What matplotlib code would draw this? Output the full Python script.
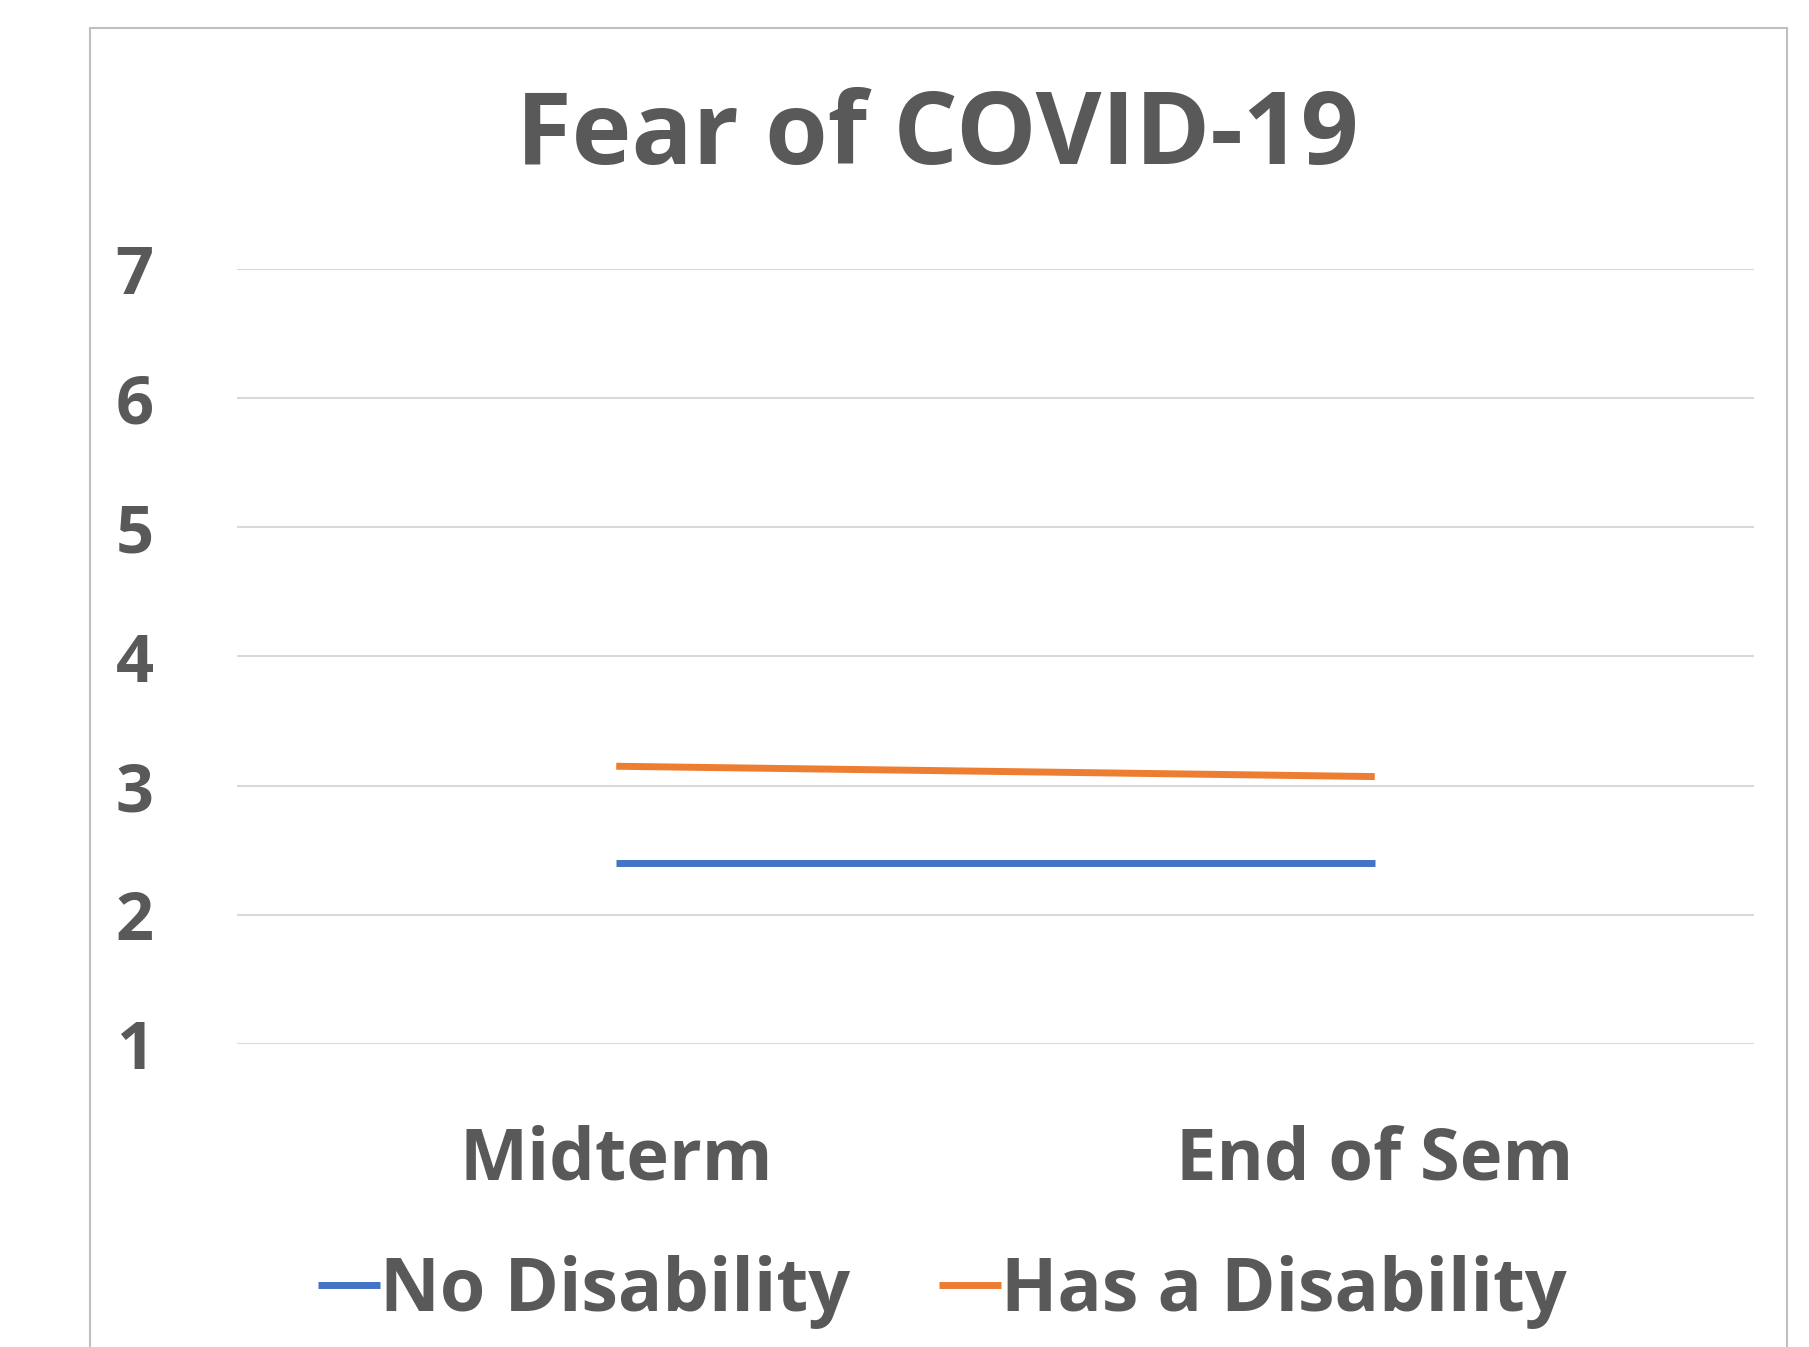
import matplotlib
matplotlib.use('Agg')
import matplotlib.pyplot as plt
from matplotlib.patches import Rectangle

# data
categories = ['Midterm', 'End of Sem']
no_disability = [2.40, 2.40]
has_disability = [3.15, 3.07]
series_names = ['No Disability', 'Has a Disability']
y_ticks = [1, 2, 3, 4, 5, 6, 7]

text_color = '#595959'
plt.rcParams['font.family'] = ['Open Sans', 'DejaVu Sans']

fig = plt.figure(figsize=(18.09, 13.47), dpi=100)
fig.patch.set_facecolor('white')
# chart-area frame (Excel style), bottom edge runs off the image
fig.patches.append(Rectangle((90 / 1809, -0.05), (1787 - 90) / 1809, 1.05 - 28 / 1347,
                             transform=fig.transFigure, fill=False,
                             edgecolor='#bfbfbf', linewidth=1.5))

ax = fig.add_axes([0.131, 0.225, 0.8386, 0.5753])
x = list(range(len(categories)))
ax.plot(x, no_disability, color='#4472c4', linewidth=5, solid_capstyle='butt',
        label=series_names[0])
ax.plot(x, has_disability, color='#ed7d31', linewidth=5, solid_capstyle='butt',
        label=series_names[1])

ax.set_xlim(-0.5, len(categories) - 0.5)
ax.set_ylim(1, 7)
ax.set_yticks(y_ticks)
ax.set_xticks(x)
ax.set_xticklabels(categories)
ax.grid(axis='y', color='#d9d9d9', linewidth=1.5)
ax.set_axisbelow(True)
for s in ax.spines.values():
    s.set_visible(False)
ax.tick_params(axis='y', length=0, pad=60, labelsize=48, labelcolor=text_color)
ax.tick_params(axis='x', length=0, pad=58, labelsize=52, labelcolor=text_color)
for lab in ax.get_xticklabels() + ax.get_yticklabels():
    lab.set_fontweight('bold')

fig.text(0.518, 0.898, 'Fear of COVID-19', ha='center', va='center',
         fontsize=73, fontweight='bold', color=text_color)

leg = fig.legend(loc='center', bbox_to_anchor=(0.521, 0.041), ncol=2, frameon=False,
                 handlelength=0.85, handletextpad=0.0, columnspacing=1.2,
                 prop={'size': 53, 'weight': 'bold'})
for t in leg.get_texts():
    t.set_color(text_color)

fig.savefig('out.png', dpi=100)
